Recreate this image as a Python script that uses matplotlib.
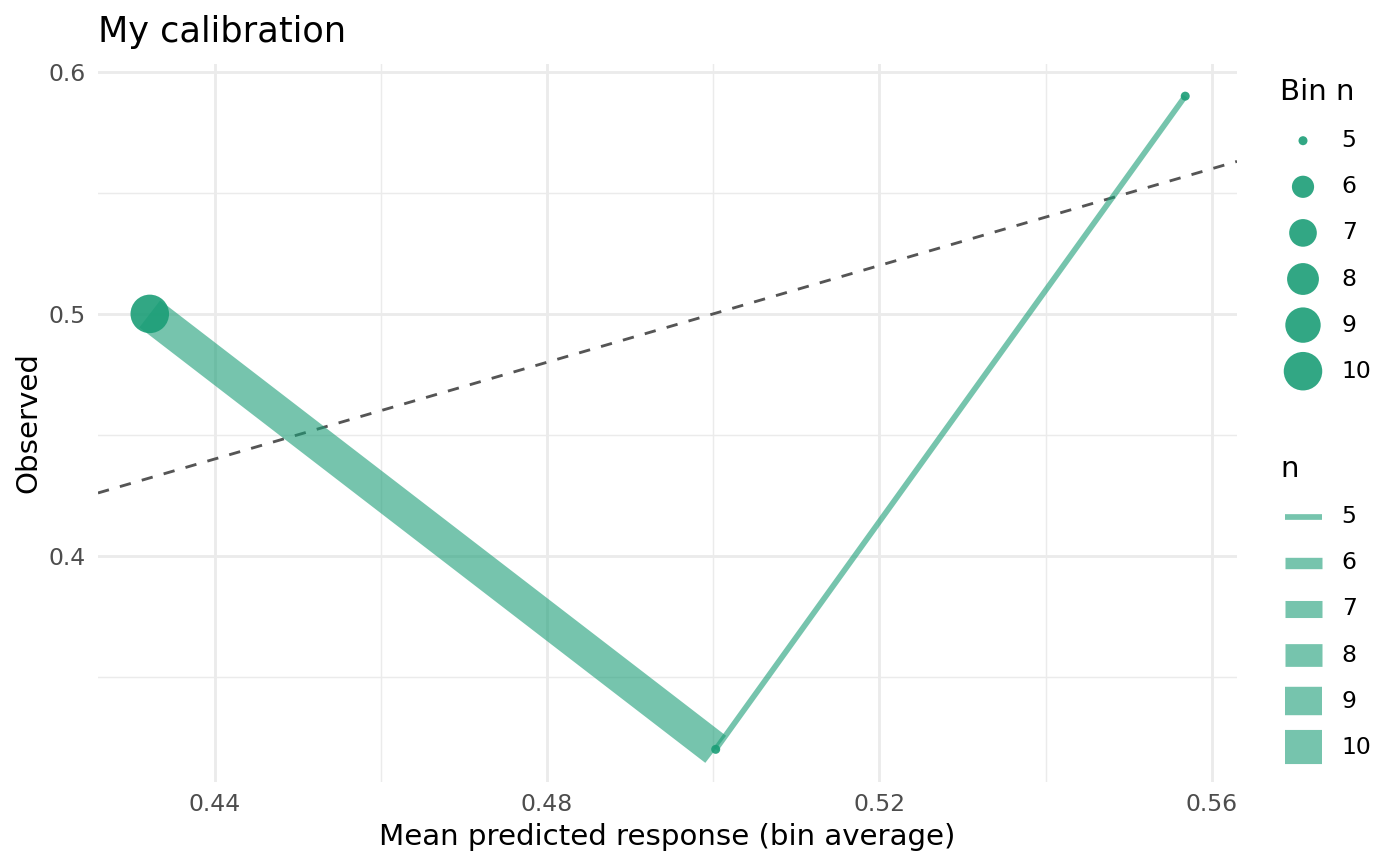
import numpy as np
import matplotlib
matplotlib.use("Agg")
import matplotlib.pyplot as plt

# ---- data ----
mean_pred = [0.4322, 0.5003, 0.5568]
observed = [0.50, 0.32, 0.59]
bin_n = [10, 5, 5]
legend_levels = [5, 6, 7, 8, 9, 10]
x_ticks = [0.44, 0.48, 0.52, 0.56]
y_ticks = [0.4, 0.5, 0.6]
title = "My calibration"
x_label = "Mean predicted response (bin average)"
y_label = "Observed"

# ---- styling ----
GREEN = "#1b9e77"
W, H = 1400, 866
fig = plt.figure(figsize=(W / 100, H / 100), dpi=100)
PX = 0.72  # points per pixel at dpi 100

n_min, n_max = min(legend_levels), max(legend_levels)


def line_px(n):
    return 5.69 + (34.1 - 5.69) * (n - n_min) / (n_max - n_min)


def point_px(n):
    return 9 + 29.5 * np.sqrt((n - n_min) / (n_max - n_min))


# panel in pixels
left, right, top, bottom = 98, 1237, 63.5, 782
ax = fig.add_axes([left / W, 1 - bottom / H, (right - left) / W, (bottom - top) / H])

xr = max(mean_pred) - min(mean_pred)
yr = max(observed) - min(observed)
xlim = (min(mean_pred) - 0.05 * xr, max(mean_pred) + 0.05 * xr)
ylim = (min(observed) - 0.05 * yr, max(observed) + 0.05 * yr)
ax.set_xlim(xlim)
ax.set_ylim(ylim)

# grid (theme_minimal)
for s in ax.spines.values():
    s.set_visible(False)
ax.set_xticks(x_ticks)
ax.set_yticks(y_ticks)
ax.set_xticklabels([f"{v:.2f}" for v in x_ticks])
ax.set_yticklabels([f"{v:.1f}" for v in y_ticks])
ax.set_xticks([0.46, 0.50, 0.54], minor=True)
ax.set_yticks([0.35, 0.45, 0.55], minor=True)
ax.grid(True, which="major", color="#ebebeb", lw=2.05)
ax.grid(True, which="minor", color="#ebebeb", lw=1.02)
ax.tick_params(which="both", length=0)
ax.tick_params(axis="x", pad=8, labelsize=16.9, labelcolor="#4d4d4d")
ax.tick_params(axis="y", pad=9, labelsize=16.9, labelcolor="#4d4d4d")
ax.set_axisbelow(True)

# diagonal reference y = x
ax.axline((0.5, 0.5), slope=1, color="#555555", lw=2.05, linestyle=(0, (4, 4)), zorder=2)

# calibration line segments (width of start point)
for i in range(len(mean_pred) - 1):
    ax.plot(mean_pred[i:i + 2], observed[i:i + 2], color=GREEN, alpha=0.6,
            lw=line_px(bin_n[i]) * PX, solid_capstyle="butt", zorder=3)

# points
sizes = [(point_px(n) * PX) ** 2 for n in bin_n]
ax.scatter(mean_pred, observed, s=sizes, color=GREEN, alpha=0.9, edgecolors="none", zorder=4)

# titles
fig.text(left / W, 1 - 41.7 / H, title, fontsize=25.3, ha="left", va="baseline")
fig.text((left + right) / 2 / W, 1 - 845 / H, x_label, fontsize=21.1, ha="center", va="baseline")
fig.text(28 / W, 1 - (top + bottom) / 2 / H, y_label, fontsize=21.1, rotation=90,
         ha="center", va="center")

# ---- legends (drawn in a pixel-coordinate overlay) ----
lax = fig.add_axes([0, 0, 1, 1])
lax.set_xlim(0, W)
lax.set_ylim(H, 0)
lax.axis("off")

lax.text(1280.5, 100, "Bin n", fontsize=21.1, ha="left", va="baseline")
for k, n in enumerate(legend_levels):
    yk = 140.7 + k * 46.1
    lax.scatter([1303], [yk], s=(point_px(n) * PX) ** 2, color=GREEN, alpha=0.9,
                edgecolors="none")
    lax.text(1341.7, yk, str(n), fontsize=16.9, ha="left", va="center")

lax.text(1280.5, 476.7, "n", fontsize=21.1, ha="left", va="baseline")
for k, n in enumerate(legend_levels):
    yk = 516.7 + k * 46.1
    lax.plot([1285, 1322], [yk, yk], color=GREEN, alpha=0.6, lw=line_px(n) * PX,
             solid_capstyle="butt")
    lax.text(1341.7, yk, str(n), fontsize=16.9, ha="left", va="center")

fig.savefig("out.png", dpi=100)
